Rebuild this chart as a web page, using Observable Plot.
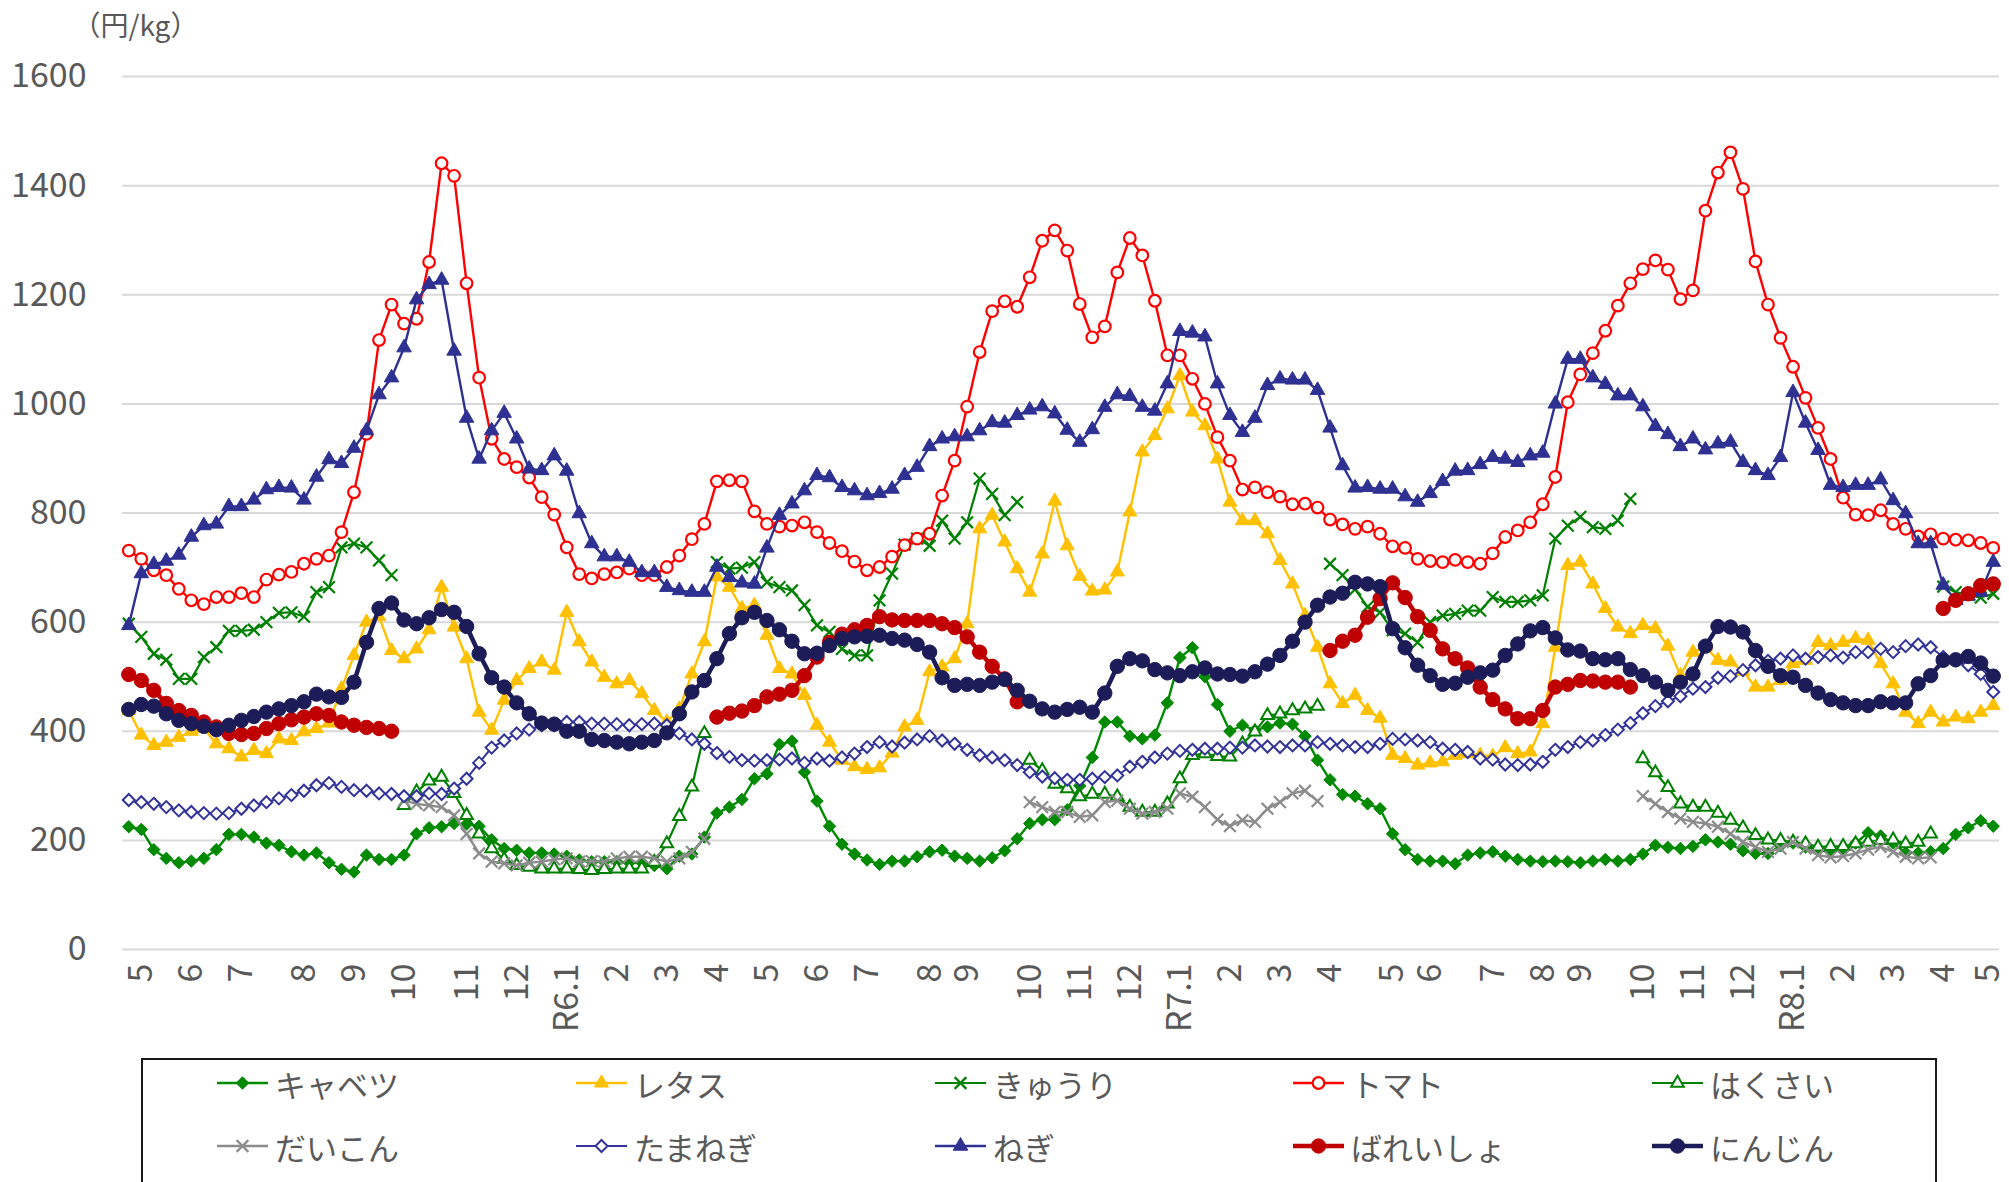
<!DOCTYPE html>
<html><head><meta charset="utf-8">
<script src="https://cdn.jsdelivr.net/npm/d3@7"></script>
<script src="https://cdn.jsdelivr.net/npm/@observablehq/plot@0.6"></script>
<style>
body{margin:0;background:#fff;font-family:'Noto Sans CJK JP','Noto Sans',sans-serif;}
#wrap{position:relative;width:2009px;height:1182px;overflow:hidden;}
#chart svg{overflow:visible;}
#legend{position:absolute;left:141px;top:1058px;width:1796px;height:150px;border:2px solid #1a1a1a;box-sizing:border-box;}
.item{position:absolute;display:flex;align-items:center;font-size:31px;color:#595959;height:40px;white-space:nowrap;}
.item svg{margin-right:6px;}
</style></head>
<body><div id="wrap"><div id="chart"></div><div id="legend"></div></div>
<script>
// ---- data (円/kg), 150 consecutive periods, null = no data ----
const seriesNames = ["キャベツ","レタス","きゅうり","トマト","はくさい","だいこん","たまねぎ","ねぎ","ばれいしょ","にんじん"];
const yTicks = [0,200,400,600,800,1000,1200,1400,1600];
const monthIdx = [1,5,9,14,18,22,27,31,35,39,43,47,51,55,59,64,67,72,76,80,84,88,92,96,101,104,109,113,116,121,125,129,133,137,141,145,149];
const monthLabels = ["5","6","7","8","9","10","11","12","R6.1","2","3","4","5","6","7","8","9","10","11","12","R7.1","2","3","4","5","6","7","8","9","10","11","12","R8.1","2","3","4","5"];
const N = 150;
const nulls = n => Array(n).fill(null);

const cabbage = [225,220,183,167,159,162,167,183,211,211,206,195,191,179,173,177,159,147,142,173,165,165,173,212,223,225,231,230,226,201,185,182,177,177,175,171,164,161,161,161,159,159,154,148,171,175,206,250,261,275,313,322,376,382,325,272,226,193,175,164,156,162,162,170,179,182,171,167,162,168,181,203,231,238,238,256,300,352,417,417,391,386,393,452,535,553,500,449,400,411,402,408,415,413,391,347,311,284,281,267,258,212,183,165,162,162,157,173,177,179,171,165,162,161,162,161,159,162,165,162,165,175,191,187,185,189,201,197,193,181,176,176,190,195,188,182,180,182,195,214,208,195,177,177,179,185,211,223,236,226];
const lettuce = [438,393,374,380,389,400,405,377,368,353,365,359,386,383,399,405,415,478,539,600,610,548,533,551,586,664,591,533,435,402,457,493,515,527,512,618,564,527,499,487,493,469,438,417,441,505,564,683,664,625,631,576,515,505,466,411,380,347,335,330,333,360,408,420,509,518,533,597,771,796,747,698,655,725,822,740,684,657,659,692,802,912,942,991,1052,985,960,899,820,786,786,762,713,670,612,554,487,451,466,438,424,356,350,338,342,344,356,359,356,354,370,359,362,414,554,704,710,670,625,591,579,594,588,556,502,545,555,530,527,510,481,481,493,524,530,563,557,563,570,567,524,487,435,414,435,417,426,423,435,447];
const cucumber = [597,573,542,531,496,496,536,554,584,584,586,600,617,618,610,655,664,737,744,737,713,686]
  .concat(nulls(25),
  [710,698,700,710,673,664,658,631,594,582,551,539,539,640,689,742,753,740,786,753,783,863,835,796,820],
  nulls(24),
  [707,686,660,628,618,585,579,563,600,612,615,621,621,646,637,637,640,649,753,777,793,774,771,786,826],
  nulls(24),
  [665,655,650,645,652]);
const tomato = [731,716,695,686,661,640,633,646,646,653,646,678,687,692,707,716,722,765,838,945,1117,1182,1147,1156,1260,1441,1418,1221,1048,936,899,884,865,829,797,737,688,680,688,691,698,686,686,701,722,752,780,858,860,858,803,780,775,777,783,765,745,730,711,695,701,720,741,753,762,832,896,995,1095,1170,1188,1178,1232,1299,1318,1281,1183,1122,1142,1241,1304,1272,1189,1089,1089,1046,1000,939,896,843,847,838,830,816,817,810,788,779,771,775,762,739,736,716,712,710,714,710,707,726,756,768,783,816,866,1003,1054,1093,1134,1180,1221,1247,1263,1246,1192,1208,1354,1424,1461,1394,1261,1182,1121,1068,1011,956,899,828,797,796,805,780,771,757,761,753,751,750,745,736];
const hakusai = nulls(22).concat(
  [264,289,309,316,286,246,212,185,165,154,151,148,148,148,147,145,147,148,148,148,160,194,244,298,396],
  nulls(25),
  [347,328,303,295,280,285,285,280,261,252,252,267,313,356,359,354,353,377,399,429,432,438,441,446],
  nulls(25),
  [350,324,297,267,261,261,250,237,223,209,201,200,197,194,188,189,189,194,197,200,201,194,197,212],
  nulls(5));
const daikon = nulls(22).concat(
  [273,267,264,261,246,212,176,161,158,154,159,161,165,167,161,162,161,167,170,170,167,161,167,179,203],
  nulls(25),
  [270,261,252,252,243,246,270,273,258,249,252,258,286,280,261,238,226,237,234,258,270,286,291,272],
  nulls(25),
  [281,267,252,240,234,231,225,212,197,188,179,185,197,185,173,169,171,176,183,188,179,170,167,169],
  nulls(5));
const onion = [274,270,267,261,255,252,250,249,250,258,264,270,277,283,291,301,305,298,292,291,286,285,281,281,286,285,295,313,342,370,383,396,403,411,411,417,417,414,414,413,411,413,414,411,396,385,377,360,353,347,346,347,348,350,342,350,346,352,359,371,380,372,379,385,391,383,377,366,356,352,347,338,325,317,314,311,311,313,316,319,335,344,352,359,364,366,368,368,370,370,374,372,371,374,374,380,377,374,371,371,377,386,385,383,380,368,366,362,350,348,339,338,339,344,366,371,380,383,393,403,415,433,446,455,464,478,481,498,501,512,521,529,533,539,533,536,539,535,545,545,551,545,556,559,554,536,530,521,505,472];
const negi = [594,689,706,712,723,756,777,780,812,812,824,843,847,846,824,866,898,891,919,951,1017,1048,1103,1191,1219,1227,1097,974,899,951,983,936,881,878,905,877,799,744,720,720,710,691,691,664,658,655,655,701,682,672,670,736,796,817,841,869,865,847,841,832,836,844,869,884,922,936,940,940,951,966,965,979,989,995,982,952,930,953,994,1017,1014,994,987,1037,1133,1130,1123,1037,979,948,974,1034,1046,1044,1044,1025,956,887,846,847,844,844,830,820,836,858,877,878,889,902,899,893,905,910,1000,1082,1082,1048,1036,1015,1015,995,959,944,922,936,916,927,930,893,878,869,902,1021,965,915,851,847,851,851,861,823,799,744,744,668,640,648,655,710];
const potato = [504,493,475,451,438,429,417,408,396,394,396,405,414,421,426,432,429,417,411,407,405,400]
  .concat(nulls(25),
  [426,433,437,447,463,468,475,502,536,563,578,586,594,610,604,603,603,603,597,590,573,545,519,496,454],
  nulls(24),
  [548,565,576,609,643,672,645,610,585,551,533,516,481,458,441,423,423,438,481,486,493,492,490,490,481],
  nulls(24),
  [625,640,652,667,670]);
const carrot = [440,449,446,432,420,414,409,403,411,420,427,435,441,447,454,468,463,462,490,563,625,635,604,597,608,623,618,592,542,498,481,452,432,415,413,400,400,385,383,380,377,380,383,397,432,472,493,533,579,608,618,603,586,565,542,543,557,570,573,574,576,570,567,559,545,498,484,486,484,490,495,475,455,441,435,440,444,435,470,519,533,529,513,507,502,509,516,505,504,501,509,523,539,565,600,631,646,653,673,670,665,588,553,521,502,486,488,499,507,512,539,560,584,590,571,549,547,533,531,533,513,502,490,475,490,505,556,592,591,582,548,519,502,499,484,470,458,452,447,447,454,452,452,487,502,530,531,537,525,501];

// ---- styles ----
const styles = [
  {values: cabbage,  stroke:"#008a00", fill:"#008a00", symbol:"diamond2",  r:5.6, sw:2.4, msw:1},
  {values: lettuce,  stroke:"#ffc000", fill:"#ffc000", symbol:"triangle",  r:5.2, sw:2.4, msw:1},
  {values: cucumber, stroke:"#008000", fill:"none",    symbol:"times",     r:5.4, sw:2.2, msw:2.2},
  {values: tomato,   stroke:"#ff0000", fill:"#ffffff", symbol:"circle",    r:5.8, sw:2.4, msw:2.2},
  {values: hakusai,  stroke:"#008000", fill:"#ffffff", symbol:"triangle2", r:6.0, sw:2.2, msw:2.0},
  {values: daikon,   stroke:"#8c8c8c", fill:"none",    symbol:"times",     r:5.4, sw:2.4, msw:2.2},
  {values: onion,    stroke:"#333399", fill:"#ffffff", symbol:"diamond2",  r:5.4, sw:2.0, msw:2.0},
  {values: negi,     stroke:"#2e3192", fill:"#2e3192", symbol:"triangle",  r:5.4, sw:2.4, msw:1},
  {values: potato,   stroke:"#c00000", fill:"#c00000", symbol:"circle",    r:7.2, sw:4.5, msw:1},
  {values: carrot,   stroke:"#1c1c58", fill:"#1c1c58", symbol:"circle",    r:7.2, sw:4.5, msw:1}
];

const labelOf = new Map(monthIdx.map((d, i) => [d, monthLabels[i]]));
const lastTick = monthIdx[monthIdx.length - 1];
const marks = [
  Plot.gridY(yTicks, {stroke:"#d9d9d9", strokeOpacity:1, strokeWidth:2}),
  Plot.axisY(yTicks, {tickSize:0, tickPadding:36, fontSize:34, fill:"#595959", label:null, tickFormat: d => String(d)}),
  Plot.axisX(monthIdx.slice(0, -1), {tickSize:0, tickPadding:14, tickRotate:-90, fontSize:34, fill:"#595959", label:null, tickFormat: d => labelOf.get(d)}),
  // last month label, nudged slightly inward so it is not clipped at the page edge
  Plot.text([lastTick], {x: d => d, frameAnchor:"bottom", dy:14, dx:-5, rotate:-90, textAnchor:"end", lineAnchor:"middle", fontSize:34, fill:"#595959", text: d => labelOf.get(d)}),
  Plot.text(["（円/kg）"], {frameAnchor:"top-left", dx:-50, dy:-60, textAnchor:"start", fontSize:28, fill:"#595959"})
];
styles.forEach((s, k) => {
  const rows = s.values.map((v, i) => ({i, v, name: seriesNames[k]}));
  marks.push(Plot.line(rows, {x:"i", y:"v", stroke:s.stroke, strokeWidth:s.sw, curve:"linear"}));
  marks.push(Plot.dot(rows.filter(d => d.v != null), {x:"i", y:"v", symbol:s.symbol, r:s.r, fill:s.fill, stroke:s.stroke, strokeWidth:s.msw}));
});

const chart = Plot.plot({
  width: 2009, height: 1050,
  marginTop: 76, marginBottom: 101, marginLeft: 122, marginRight: 10,
  style: {fontFamily: "'Noto Sans CJK JP','Noto Sans',sans-serif", background: "#fff", overflow: "visible"},
  x: {type:"linear", domain:[-0.5, N - 0.5], axis:null},
  y: {domain:[0,1600], axis:null},
  marks
});
document.getElementById("chart").appendChild(chart);

// ---- legend ----
const legend = document.getElementById("legend");
const colX = [74, 433, 792, 1150, 1509];
const rowY = [3, 66];
const symMap = {diamond2:d3.symbolDiamond2, triangle:d3.symbolTriangle, triangle2:d3.symbolTriangle2, circle:d3.symbolCircle, times:d3.symbolTimes};
styles.forEach((s, k) => {
  const div = document.createElement("div");
  div.className = "item";
  div.style.left = colX[k % 5] + "px";
  div.style.top = rowY[Math.floor(k / 5)] + "px";
  const path = d3.symbol(symMap[s.symbol], Math.PI * s.r * s.r)();
  div.innerHTML = `<svg width="52" height="30" viewBox="0 0 52 30"><line x1="0" x2="51" y1="15" y2="15" stroke="${s.stroke}" stroke-width="${s.sw}"/><path transform="translate(25.5,15)" d="${path}" fill="${s.fill}" stroke="${s.stroke}" stroke-width="${s.msw}"/></svg><span>${seriesNames[k]}</span>`;
  legend.appendChild(div);
});
</script></body></html>
